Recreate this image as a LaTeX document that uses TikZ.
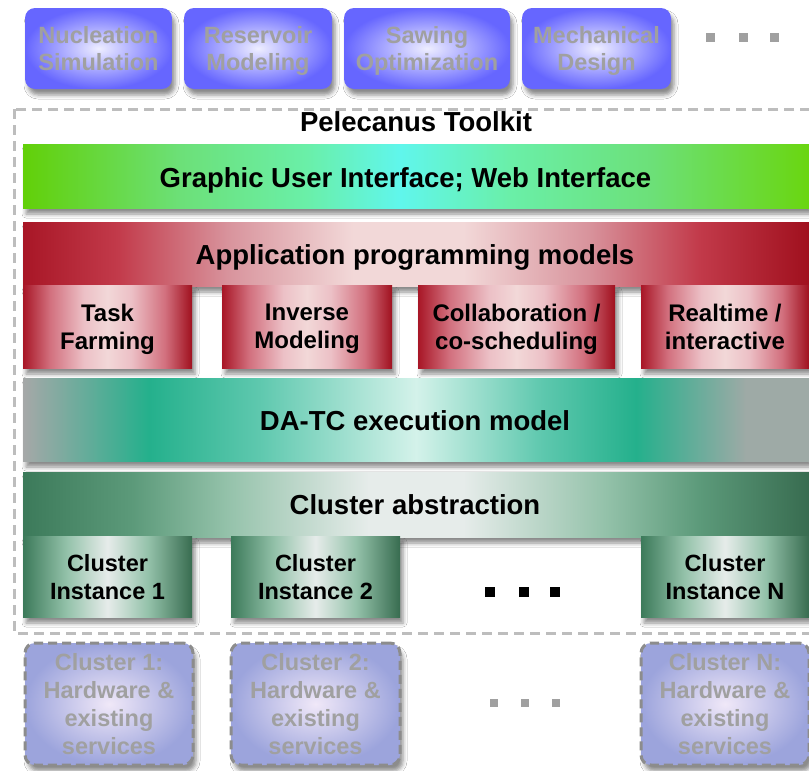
\documentclass[tikz,border=0pt]{standalone}
\usepackage{fontspec}
\setmainfont{Liberation Sans}
\usetikzlibrary{shadows.blur}

% GUI colours
\definecolor{guiA}{HTML}{62D008}
\definecolor{guiB}{HTML}{6CE078}
\definecolor{guiC}{HTML}{6AEFA8}
\definecolor{guiD}{HTML}{60F6EC}
\definecolor{guiE}{HTML}{6AD610}
% red
\definecolor{redA}{HTML}{A81626}
\definecolor{redB}{HTML}{C23A4A}
\definecolor{redC}{HTML}{D8939C}
\definecolor{redD}{HTML}{F2D8D8}
\definecolor{redE}{HTML}{A0101E}
\definecolor{redS}{HTML}{D2707E}
\definecolor{redT}{HTML}{ECC0C6}
% teal
\definecolor{tealA}{HTML}{A6A8A8}
\definecolor{tealB}{HTML}{24B08C}
\definecolor{tealC}{HTML}{5EC8AE}
\definecolor{tealD}{HTML}{D4F2EA}
\definecolor{tealE}{HTML}{9EAAA6}
% green
\definecolor{grnA}{HTML}{3C7A5A}
\definecolor{grnB}{HTML}{5C9A7A}
\definecolor{grnC}{HTML}{94C2AA}
\definecolor{grnD}{HTML}{E6ECEA}
\definecolor{grnE}{HTML}{386C50}
% blue
\definecolor{topIn}{HTML}{EEEEFF}
\definecolor{topOut}{HTML}{6666FF}
\definecolor{botIn}{HTML}{F0E8F8}
\definecolor{botOut}{HTML}{9CA4DC}
\definecolor{fadetext}{HTML}{A0A0A0}
\definecolor{framegray}{HTML}{BDBDBD}
\definecolor{botborder}{HTML}{8C8C8C}

\pgfdeclarehorizontalshading{guishade}{100bp}{color(0bp)=(guiA); color(25bp)=(guiA); color(35bp)=(guiB); color(43bp)=(guiC); color(49bp)=(guiD); color(56bp)=(guiC); color(65bp)=(guiB); color(75bp)=(guiE); color(100bp)=(guiE)}
\pgfdeclarehorizontalshading{appshade}{100bp}{color(0bp)=(redA); color(25bp)=(redA); color(31bp)=(redB); color(38bp)=(redC); color(46bp)=(redD); color(53bp)=(redD); color(61bp)=(redC); color(68bp)=(redB); color(75bp)=(redE); color(100bp)=(redE)}
\pgfdeclarehorizontalshading{subshade}{100bp}{color(0bp)=(redA); color(25bp)=(redA); color(33bp)=(redS); color(43bp)=(redT); color(50bp)=(redD); color(57bp)=(redT); color(67bp)=(redS); color(75bp)=(redE); color(100bp)=(redE)}
\pgfdeclarehorizontalshading{tealshade}{100bp}{color(0bp)=(tealA); color(25bp)=(tealA); color(33bp)=(tealB); color(40bp)=(tealC); color(50bp)=(tealD); color(58bp)=(tealC); color(64bp)=(tealB); color(71bp)=(tealE); color(75bp)=(tealE); color(100bp)=(tealE)}
\pgfdeclarehorizontalshading{grnshade}{100bp}{color(0bp)=(grnA); color(25bp)=(grnA); color(32bp)=(grnB); color(38bp)=(grnC); color(47bp)=(grnD); color(53bp)=(grnD); color(62bp)=(grnC); color(68bp)=(grnB); color(75bp)=(grnE); color(100bp)=(grnE)}
\pgfdeclarehorizontalshading{instshade}{100bp}{color(0bp)=(grnA); color(25bp)=(grnA); color(38bp)=(grnC); color(50bp)=(grnD); color(62bp)=(grnC); color(75bp)=(grnE); color(100bp)=(grnE)}

\tikzset{
  dropsh/.style={blur shadow={shadow xshift=3pt, shadow yshift=-6pt, shadow blur radius=4pt, shadow opacity=45}},
  bar/.style={dropsh, inner sep=0pt, minimum width=786pt, draw=none},
  bigtext/.style={font=\fontsize{27.5}{32}\selectfont\bfseries, text=black, inner sep=0pt, anchor=base},
  flatdepth/.style={text depth=0pt},
  topbox/.style={dropsh, flatdepth, rounded corners=10pt, inner sep=0pt, shading=radial, inner color=topIn, outer color=topOut,
     font=\fontsize{23.5}{27}\selectfont\bfseries, text=fadetext, align=center},
  subbox/.style={dropsh, flatdepth, inner sep=0pt, shading=subshade, font=\fontsize{24}{28}\selectfont\bfseries, align=center},
  instbox/.style={dropsh, flatdepth, inner sep=0pt, shading=instshade, font=\fontsize{23.5}{28}\selectfont\bfseries, align=center},
  botbox/.style={dropsh, flatdepth, rounded corners=10pt, inner sep=0pt, shading=radial, inner color=botIn, outer color=botOut,
     draw=botborder, line width=3pt, dash pattern=on 9pt off 5pt,
     font=\fontsize{23.5}{28}\selectfont\bfseries, text=fadetext, align=center},
  sqdot/.style={inner sep=0pt, minimum size=9pt, fill=#1},
}

\begin{document}
\begin{tikzpicture}[x=1pt, y=-1pt]
\useasboundingbox[fill=white] (0,0) rectangle (809,771);

% outer dashed frame
\draw[framegray, line width=3pt, dash pattern=on 10pt off 6pt] (14,109) rectangle (840,633);

% top application boxes
\node[topbox, minimum width=147pt, minimum height=81pt] (nuc) at (98.5,48.5) {Nucleation\\Simulation};
\node[topbox, minimum width=148pt, minimum height=81pt] (res) at (258,48.5) {Reservoir\\Modeling};
\node[topbox, minimum width=166pt, minimum height=81pt] (saw) at (427,48.5) {Sawing\\Optimization};
\node[topbox, minimum width=149pt, minimum height=81pt] (mech) at (596.5,48.5) {Mechanical\\Design};
\node[sqdot=fadetext] (td1) at (710,37) {};
\node[sqdot=fadetext] (td2) at (743,37) {};
\node[sqdot=fadetext] (td3) at (774,37) {};

% title
\node[bigtext] (title) at (416,131.5) {Pelecanus Toolkit};

% GUI bar
\node[bar, shading=guishade, minimum height=64pt] (gui) at (416,176) {};
\node[bigtext] (guiT) at (405.5,187.5) {Graphic User Interface; Web Interface};

% Application programming models
\node[bar, shading=appshade, minimum height=64pt] (app) at (416,254) {};
\node[bigtext] (appT) at (415,264) {Application programming models};
\node[subbox, minimum width=169pt, minimum height=83pt] (task) at (107.5,326.5) {Task\\Farming};
\node[subbox, minimum width=170pt, minimum height=83pt] (inv) at (307,326.5) {Inverse\\Modeling};
\node[subbox, minimum width=197pt, minimum height=83pt] (coll) at (516.5,326.5) {Collaboration /\\co-scheduling};
\node[subbox, minimum width=168pt, minimum height=83pt] (real) at (725,326.5) {Realtime /\\interactive};

% DA-TC
\node[bar, shading=tealshade, minimum height=83pt] (datc) at (416,419.5) {};
\node[bigtext] (datcT) at (415,430) {DA-TC execution model};

% Cluster abstraction
\node[bar, shading=grnshade, minimum height=65pt] (clab) at (416,504.5) {};
\node[bigtext] (clabT) at (415,514) {Cluster abstraction};
\node[instbox, minimum width=169pt, minimum height=81pt] (ci1) at (107.5,576.5) {Cluster\\Instance 1};
\node[instbox, minimum width=169pt, minimum height=81pt] (ci2) at (315.5,576.5) {Cluster\\Instance 2};
\node[instbox, minimum width=168pt, minimum height=81pt] (ciN) at (725,576.5) {Cluster\\Instance N};
\node[sqdot=black, minimum size=10pt] (md1) at (490,592) {};
\node[sqdot=black, minimum size=10pt] (md2) at (524,592) {};
\node[sqdot=black, minimum size=10pt] (md3) at (555,592) {};

% bottom hardware boxes
\node[botbox, minimum width=168pt, minimum height=122pt] (hw1) at (109,704) {Cluster 1:\\Hardware \&\\existing\\services};
\node[botbox, minimum width=169pt, minimum height=122pt] (hw2) at (315.5,704) {Cluster 2:\\Hardware \&\\existing\\services};
\node[botbox, minimum width=168pt, minimum height=122pt] (hwN) at (725,704) {Cluster N:\\Hardware \&\\existing\\services};
\node[sqdot=fadetext, minimum size=8pt] (bd1) at (494,703) {};
\node[sqdot=fadetext, minimum size=8pt] (bd2) at (525,703) {};
\node[sqdot=fadetext, minimum size=8pt] (bd3) at (556,703) {};
\end{tikzpicture}
\end{document}
